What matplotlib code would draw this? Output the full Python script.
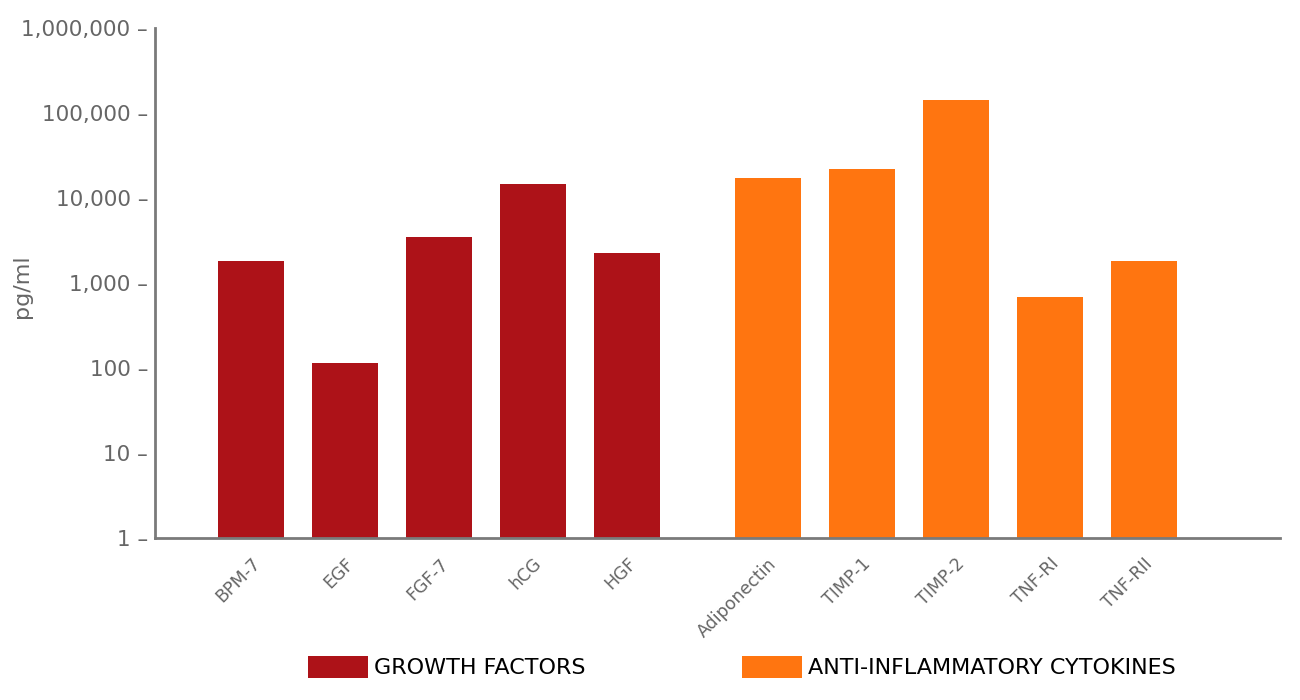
import matplotlib
matplotlib.use("Agg")
import matplotlib.pyplot as plt
from matplotlib.patches import Patch
from matplotlib.ticker import FixedLocator, FuncFormatter

growth_labels = ["BPM-7", "EGF", "FGF-7", "hCG", "HGF"]
growth_values = [1800, 115, 3500, 14600, 2250]
anti_labels = ["Adiponectin", "TIMP-1", "TIMP-2", "TNF-RI", "TNF-RII"]
anti_values = [17200, 21900, 142000, 690, 1800]
y_ticks = [1, 10, 100, 1000, 10000, 100000, 1000000]

red = "#AD1218"
orange = "#FF7510"
grey = "#666666"

fig = plt.figure(figsize=(13, 7), dpi=100)
ax = fig.add_axes([155/1300, 1-538/700, (1280-155)/1300, (538-28)/700])

gx = [0, 1, 2, 3, 4]
ax_pos = [5.5, 6.5, 7.5, 8.5, 9.5]
ax.bar(gx, growth_values, width=0.7, color=red, bottom=1)
ax.bar(ax_pos, anti_values, width=0.7, color=orange, bottom=1)
ax.set_yscale("log")
ax.set_ylim(1, 1e6)
ax.set_xlim(-1.02, 10.95)

ax.yaxis.set_major_locator(FixedLocator(y_ticks))
ax.yaxis.set_minor_locator(FixedLocator([]))
ax.yaxis.set_major_formatter(FuncFormatter(lambda v, p: f"{int(round(v)):,} \u2013"))
ax.tick_params(axis="y", length=0, pad=5, labelsize=15.5, labelcolor=grey)

ax.set_xticks(gx + ax_pos)
ax.set_xticklabels(growth_labels + anti_labels, rotation=45, ha="right",
                   va="top", rotation_mode="anchor", fontsize=12.5, color=grey)
ax.tick_params(axis="x", length=0, pad=12)

for s in ["top", "right"]:
    ax.spines[s].set_visible(False)
for s in ["left", "bottom"]:
    ax.spines[s].set_color("#7a7a7a")
    ax.spines[s].set_linewidth(2)

fig.text(22/1300, 1-286/700, "pg/ml", rotation=90, ha="center", va="center",
         fontsize=16, color=grey)

handles = [Patch(facecolor=red), Patch(facecolor=orange)]
fig.legend(handles, ["GROWTH FACTORS", "ANTI-INFLAMMATORY CYTOKINES"],
           loc="center", bbox_to_anchor=(742/1300, 1-667/700), ncol=2,
           frameon=False, handlelength=2.7, handleheight=1.13,
           handletextpad=0.25, columnspacing=7.05,
           prop={"family": ["Liberation Sans Narrow", "DejaVu Sans Condensed", "DejaVu Sans"], "size": 16})

fig.savefig("out.png", dpi=100)
